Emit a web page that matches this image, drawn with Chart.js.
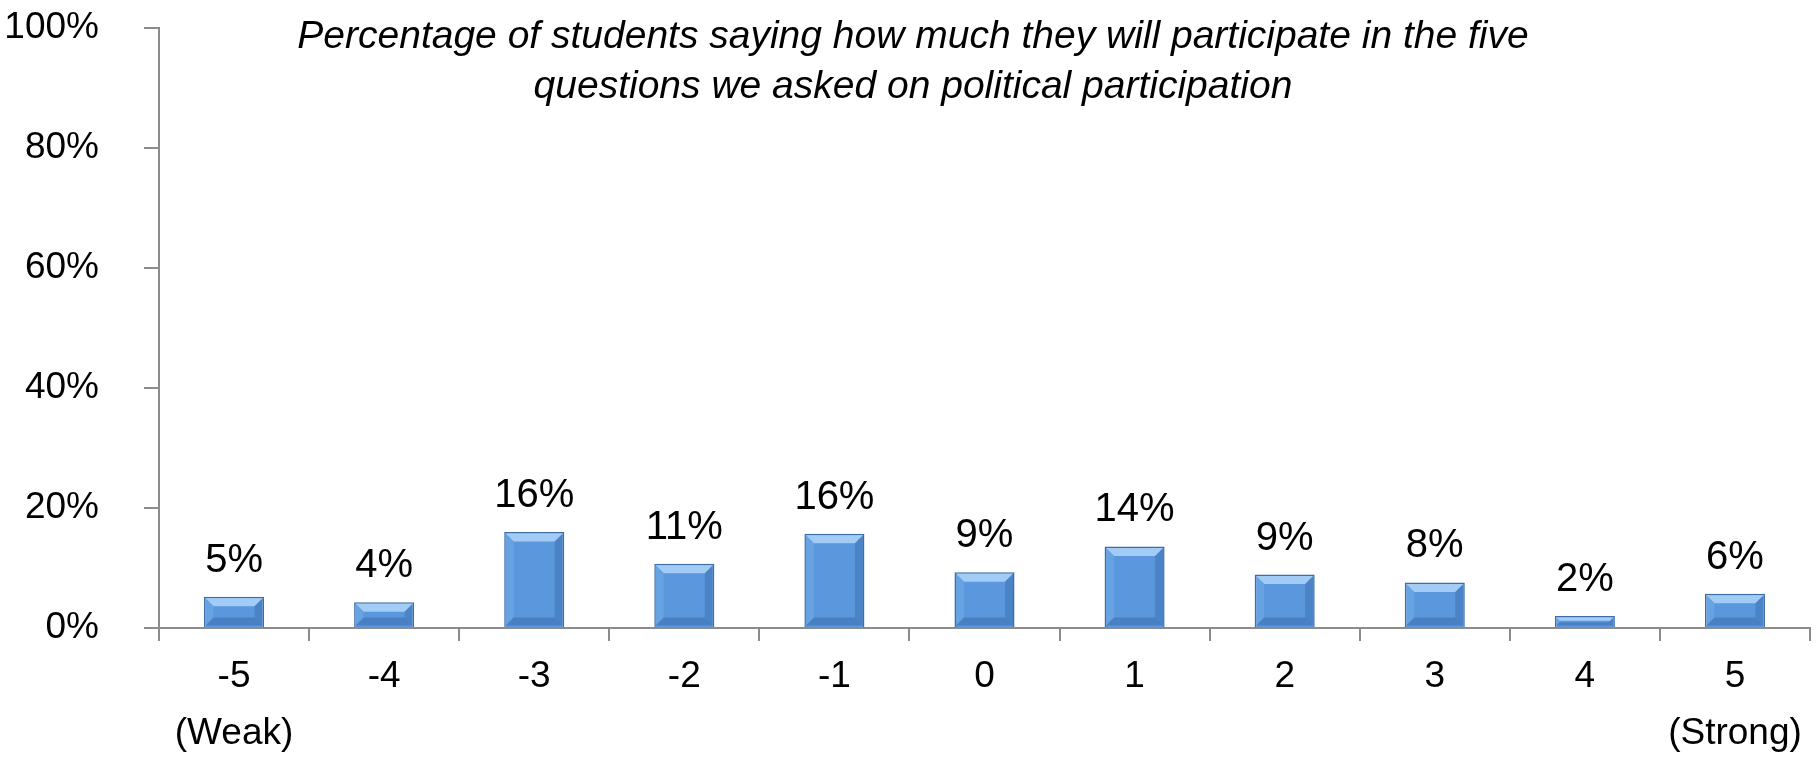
<!DOCTYPE html>
<html lang="en">
<head>
<meta charset="UTF-8">
<title>Political participation</title>
<script src="https://cdn.jsdelivr.net/npm/chart.js"></script>
<style>
body {
    margin: 0;
    background: #fff;
    font-family: "Liberation Sans", Arial, sans-serif;
}
.wrap {
    position: relative;
    width: 1819px;
    height: 758px;
}
#chartTitle {
    position: absolute;
    left: 0;
    width: 1826px;
    top: 10px;
    text-align: center;
    font-style: italic;
    font-size: 39px;
    line-height: 50px;
    color: #000;
    pointer-events: none;
}
</style>
</head>
<body>
<div class="wrap">
<canvas id="chart" width="1819" height="758"></canvas>
<div id="chartTitle">Percentage of students saying how much they will participate in the five<br>questions we asked on political participation</div>
</div>

<script>
// scale points, -5 (weak) .. 5 (strong)
const categories=[["-5","(Weak)"],"-4","-3","-2","-1","0","1","2","3","4",["5","(Strong)"]];
// share of students, in percent
const percentValues=[5.2,4.3,16.0,10.7,15.7,9.3,13.6,8.9,7.6,2.0,5.7];
const yTicks=[0,20,40,60,80,100];

const axisGrey="#8c8c8c";
const fontFamily="'Liberation Sans', Arial, sans-serif";

// percent labels above each bar
const valueLabels={
    id:"valueLabels",
    afterDatasetsDraw(chart){
        const ctx=chart.ctx;
        const meta=chart.getDatasetMeta(0);
        ctx.save();
        ctx.font="40px "+fontFamily;
        ctx.fillStyle="#000";
        ctx.textAlign="center";
        ctx.textBaseline="alphabetic";
        meta.data.forEach((bar,i)=>{
            const v=chart.data.datasets[0].data[i];
            ctx.fillText(Math.round(v)+"%", bar.x, bar.y-25);
        });
        ctx.restore();
    }
};

// excel-like bevel on the bars
const bevel={
    id:"bevel",
    afterDatasetsDraw(chart){
        const ctx=chart.ctx;
        const meta=chart.getDatasetMeta(0);
        ctx.save();
        meta.data.forEach(bar=>{
            const l=bar.x-bar.width/2+1.5, r=bar.x+bar.width/2-1.5;
            const t=bar.y+1.5, b=bar.base-1.5;
            const d=Math.min(8,(b-t)/2.5);
            const poly=(pts,col)=>{
                ctx.beginPath();
                ctx.moveTo(pts[0][0],pts[0][1]);
                for(let k=1;k<pts.length;k++) ctx.lineTo(pts[k][0],pts[k][1]);
                ctx.closePath();
                ctx.fillStyle=col;
                ctx.fill();
            };
            poly([[l,t],[r,t],[r-d,t+d],[l+d,t+d]],"rgba(175,212,250,0.85)");
            poly([[l,t],[l+d,t+d],[l+d,b-d],[l,b]],"rgba(120,175,235,0.45)");
            poly([[r,t],[r,b],[r-d,b-d],[r-d,t+d]],"rgba(40,85,150,0.30)");
            poly([[l,b],[l+d,b-d],[r-d,b-d],[r,b]],"rgba(40,85,150,0.35)");
        });
        ctx.restore();
    }
};

new Chart(document.getElementById("chart"),{
    type:"bar",
    data:{
        labels:categories,
        datasets:[{
            data:percentValues,
            backgroundColor:"#5a97dc",
            borderColor:"#3d6ca6",
            borderWidth:1.5,
            barPercentage:0.4,
            categoryPercentage:1.0
        }]
    },
    options:{
        responsive:false,
        animation:false,
        layout:{padding:{top:28,right:9,left:0,bottom:0}},
        plugins:{
            legend:{display:false},
            tooltip:{enabled:false},
            title:{display:false}
        },
        scales:{
            x:{
                offset:true,
                grid:{
                    offset:true,
                    drawOnChartArea:false,
                    drawTicks:true,
                    tickLength:13,
                    color:axisGrey,
                    lineWidth:2
                },
                border:{display:true,color:axisGrey,width:2},
                ticks:{
                    color:"#000",
                    font:{family:fontFamily,size:37,lineHeight:1.52},
                    padding:8,
                    maxRotation:0,
                    autoSkip:false
                },
                afterFit(scale){ scale.height=130; }
            },
            y:{
                min:0,
                max:100,
                afterBuildTicks(scale){ scale.ticks=yTicks.map(v=>({value:v})); },
                grid:{
                    drawOnChartArea:false,
                    drawTicks:true,
                    tickLength:15,
                    color:axisGrey,
                    lineWidth:2
                },
                border:{display:true,color:axisGrey,width:2},
                ticks:{
                    color:"#000",
                    font:{family:fontFamily,size:37},
                    padding:45,
                    callback:v=>v+"%"
                },
                afterFit(scale){
                    scale.width=159;
                    scale.paddingTop=0;
                    scale.paddingBottom=0;
                }
            }
        }
    },
    plugins:[bevel,valueLabels]
});
</script>
</body>
</html>
